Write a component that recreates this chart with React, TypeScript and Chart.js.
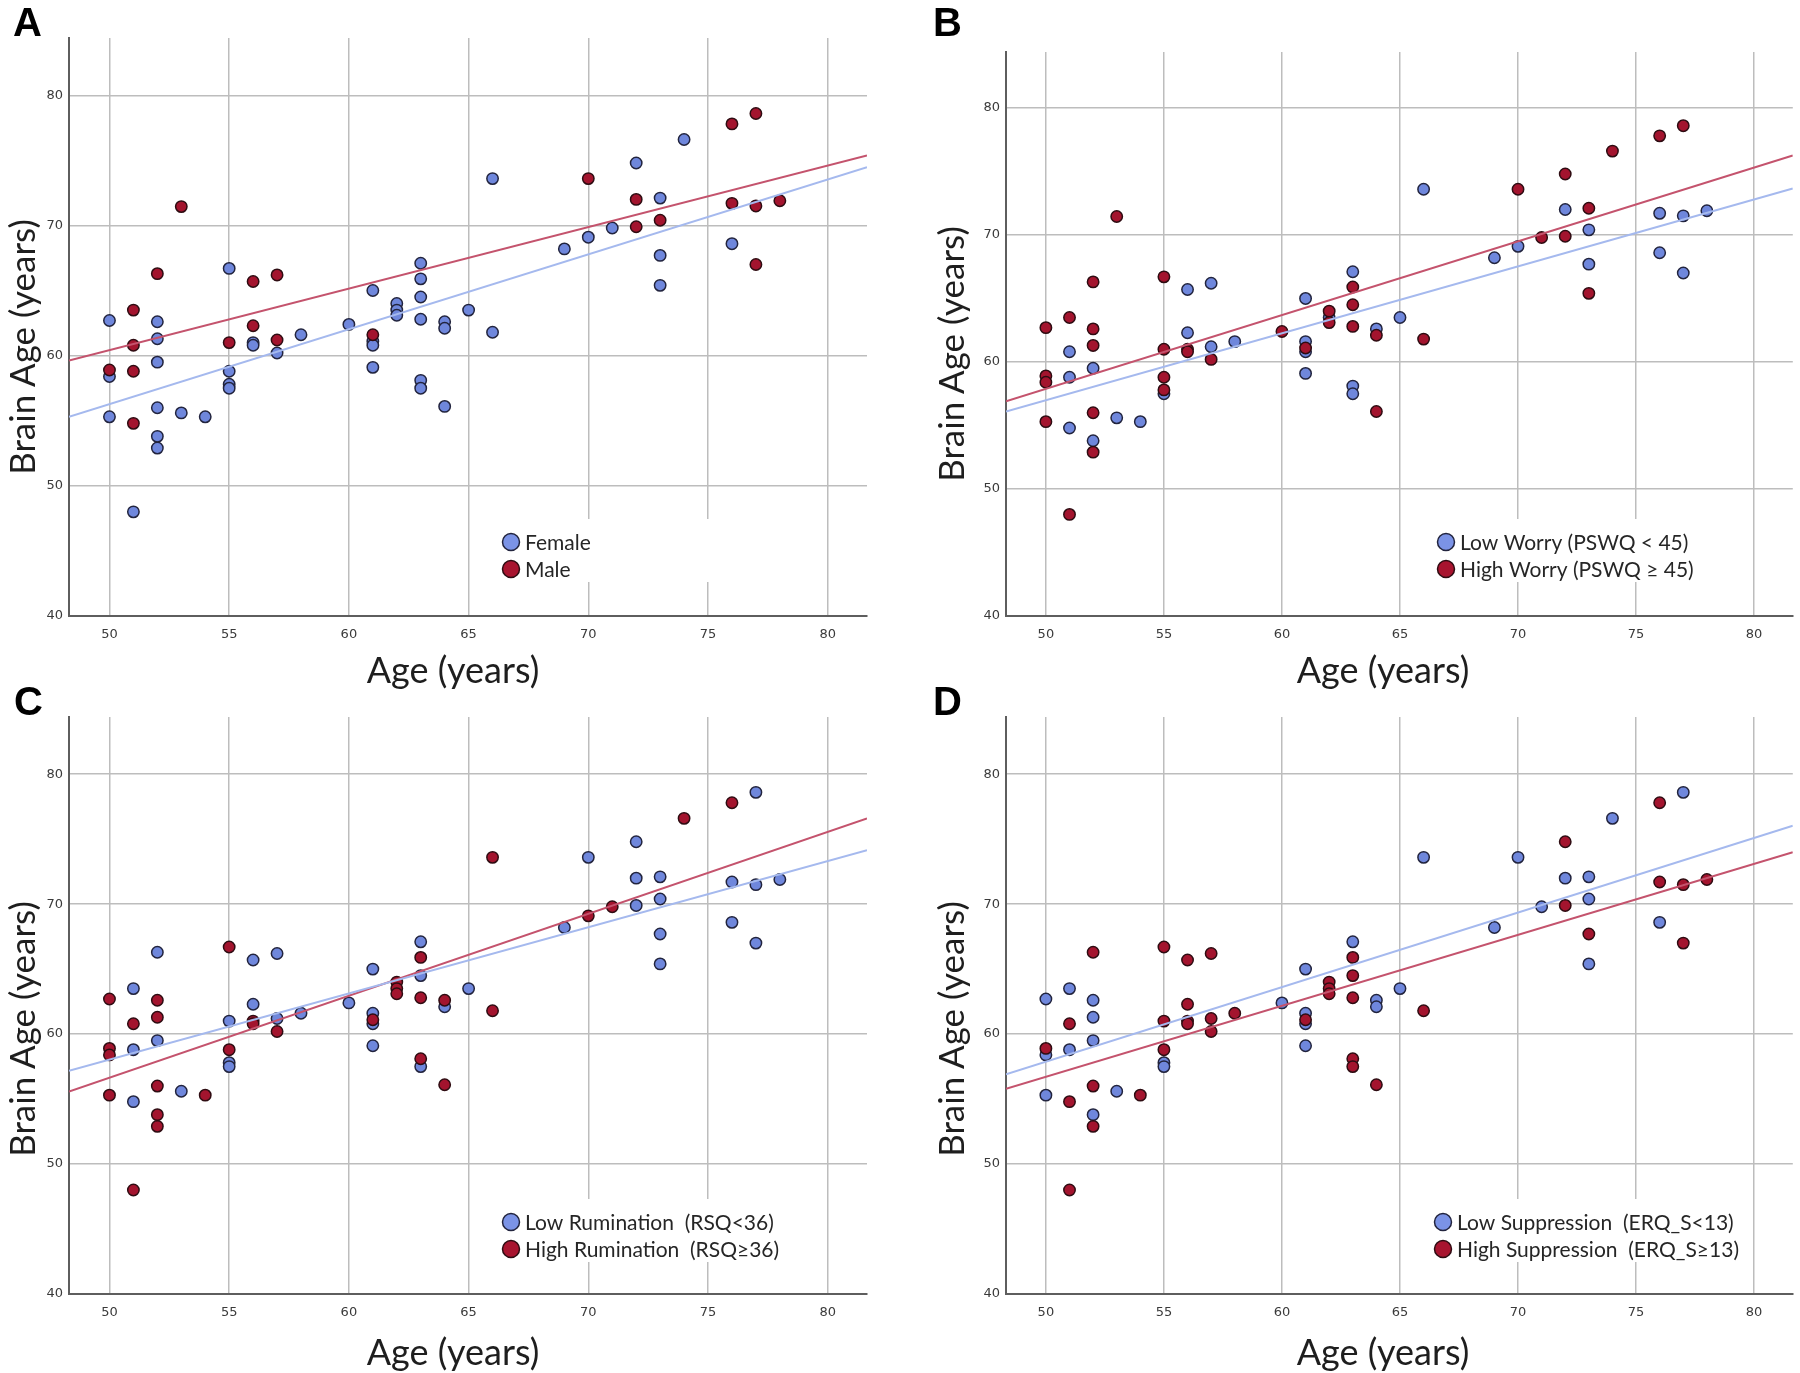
import React, { useEffect, useRef } from 'react';
import { Chart, registerables } from 'chart.js';

Chart.register(...registerables);

// ---------- data ----------
const ages = [
  50, 50, 50, 50,
  51, 51, 51, 51, 51,
  52, 52, 52, 52, 52, 52, 52,
  53, 53,
  54,
  55, 55, 55, 55, 55,
  56, 56, 56, 56,
  57, 57, 57,
  58,
  60,
  61, 61, 61, 61, 61,
  62, 62, 62,
  63, 63, 63, 63, 63, 63,
  64, 64, 64,
  65,
  66, 66,
  69,
  70, 70,
  71,
  72, 72, 72,
  73, 73, 73, 73,
  74,
  76, 76, 76,
  77, 77, 77,
  78,
];

const brainAges = [
  62.7, 58.9, 58.4, 55.3,
  63.5, 60.8, 58.8, 54.8, 48.0,
  66.3, 62.6, 61.3, 59.5, 56.0, 53.8, 52.9,
  71.45, 55.6,
  55.3,
  66.7, 61.0, 58.8, 57.8, 57.5,
  65.7, 62.3, 61.0, 60.8,
  66.2, 61.2, 60.2,
  61.6,
  62.4,
  65.0, 61.6, 61.1, 60.8, 59.1,
  64.0, 63.5, 63.1,
  67.1, 65.9, 64.5, 62.8, 58.1, 57.5,
  62.6, 62.1, 56.1,
  63.5,
  73.6, 61.8,
  68.2,
  73.6, 69.1,
  69.8,
  74.8, 72.0, 69.9,
  72.1, 70.4, 67.7, 65.4,
  76.6,
  77.8, 71.7, 68.6,
  78.6, 71.5, 67.0,
  71.9,
];

// 0 = female / low, 1 = male / high, null = not shown in that panel
const sexGroup = [
  0, 1, 0, 0,
  1, 1, 1, 1, 0,
  1, 0, 0, 0, 0, 0, 0,
  1, 0,
  0,
  0, 1, 0, 0, 0,
  1, 1, 0, 0,
  1, 1, 0,
  0,
  0,
  0, 1, 0, 0, 0,
  0, 0, 0,
  0, 0, 0, 0, 0, 0,
  0, 0, 0,
  0,
  0, 0,
  0,
  1, 0,
  0,
  0, 1, 1,
  0, 1, 0, 0,
  0,
  1, 1, 0,
  1, 1, 1,
  1,
];

const worryGroup = [
  1, 1, 1, 1,
  1, 0, 0, 0, 1,
  1, 1, 1, 0, 1, 0, 1,
  1, 0,
  0,
  1, 1, 1, 1, 0,
  0, 0, 1, 1,
  0, 0, 1,
  0,
  1,
  0, 0, 1, 0, 0,
  1, 0, 1,
  0, 1, 1, 1, 0, 0,
  0, 1, 1,
  0,
  0, 1,
  0,
  1, 0,
  1,
  1, 0, 1,
  1, 0, 0, 1,
  1,
  1, 0, 0,
  1, 0, 0,
  0,
];

const ruminationGroup = [
  1, 1, 1, 1,
  0, 1, 0, 0, 1,
  0, 1, 1, 0, 1, 1, 1,
  null, 0,
  1,
  1, 0, 1, 0, 0,
  0, 0, 1, 1,
  0, 0, 1,
  0,
  0,
  0, 0, 1, 0, 0,
  1, 1, 1,
  0, 1, 0, 1, 1, 0,
  1, 0, 1,
  0,
  1, 1,
  0,
  0, 1,
  1,
  0, 0, 0,
  0, 0, 0, 0,
  1,
  1, 0, 0,
  0, 0, 0,
  0,
];

const suppressionGroup = [
  0, 1, 0, 0,
  0, 1, 0, 1, 1,
  1, 0, 0, 0, 1, 0, 1,
  null, 0,
  1,
  1, 1, 1, 0, 0,
  1, 1, 1, 1,
  1, 1, 1,
  1,
  0,
  0, 0, 1, 0, 0,
  1, 1, 1,
  0, 1, 1, 1, 1, 1,
  0, 0, 1,
  0,
  0, 1,
  0,
  0, null,
  0,
  1, 0, 1,
  0, 0, 1, 0,
  0,
  1, 1, 0,
  0, 1, 1,
  1,
];

const xRange = [48.31, 81.64];
const yRange = [40, 84.4];
const xTickStep = 5;
const yTickStep = 10;

// fitted lines: brain age at xRange[0] and xRange[1]
const fitSexFemale = [55.3, 74.47];
const fitSexMale = [59.63, 75.38];
const fitWorryLow = [56.1, 73.65];
const fitWorryHigh = [56.9, 76.25];
const fitRuminationLow = [57.18, 74.15];
const fitRuminationHigh = [55.58, 76.6];
const fitSuppressionLow = [56.9, 76.03];
const fitSuppressionHigh = [55.8, 74.0];

const sexLabels = ['Female', 'Male'];
const worryLabels = ['Low Worry (PSWQ < 45)', 'High Worry (PSWQ \u2265 45)'];
const ruminationLabels = ['Low Rumination  (RSQ<36)', 'High Rumination  (RSQ\u226536)'];
const suppressionLabels = ['Low Suppression  (ERQ_S<13)', 'High Suppression  (ERQ_S\u226513)'];

// ---------- styles ----------
const BLUE_FILL = '#6f87dc';
const BLUE_LEGEND = '#7b93e6';
const BLUE_EDGE = '#22243e';
const RED_FILL = '#a3142e';
const RED_LEGEND = '#a8142f';
const RED_EDGE = '#2e0c12';
const BLUE_LINE = '#a5b9ee';
const RED_LINE = '#c4536d';
const GRID = '#bdbdbd';
const AXIS = '#5e5e5e';
const TICK_COLOR = '#3a3a3a';
const TEXT_FONT = 'Lato, "Open Sans", sans-serif';

const insideLegend = {
  id: 'insideLegend',
  beforeDatasetsDraw(chart: any, _args: any, opts: any) {
    const { ctx, chartArea } = chart;
    const items = chart.data.datasets.slice(0, 2);
    const cx = chartArea.left + opts.dx;
    const y0 = chartArea.bottom + opts.dy;
    ctx.save();
    ctx.font = opts.font;
    let textW = 0;
    items.forEach((d: any) => {
      textW = Math.max(textW, ctx.measureText(d.label).width);
    });
    const boxLeft = cx - 20;
    const boxRight = Math.max(cx + 14 + textW + 10, cx + 210);
    ctx.fillStyle = '#ffffff';
    ctx.fillRect(boxLeft, y0 - 23, boxRight - boxLeft, opts.rowGap + 36);
    items.forEach((d: any, i: number) => {
      const y = y0 + i * opts.rowGap;
      ctx.beginPath();
      ctx.arc(cx, y, 8.5, 0, Math.PI * 2);
      ctx.fillStyle = d.legendFill;
      ctx.fill();
      ctx.lineWidth = 1.5;
      ctx.strokeStyle = d.borderColor;
      ctx.stroke();
      ctx.fillStyle = opts.color;
      ctx.textBaseline = 'middle';
      ctx.textAlign = 'left';
      ctx.fillText(d.label, cx + 14, y + 1);
    });
    ctx.restore();
  },
};

type Spec = {
  left: number; top: number; w: number; h: number;
  area: { left: number; top: number; right: number; bottom: number };
  group: (number | null)[];
  labels: string[];
  fitLow: number[];
  fitHigh: number[];
  legendDx: number;
  legendDy: number;
};

function Panel({ spec }: { spec: Spec }) {
  const ref = useRef<HTMLCanvasElement>(null);
  useEffect(() => {
    const low: { x: number; y: number }[] = [];
    const high: { x: number; y: number }[] = [];
    ages.forEach((a, i) => {
      const g = spec.group[i];
      if (g === 0) low.push({ x: a, y: brainAges[i] });
      else if (g === 1) high.push({ x: a, y: brainAges[i] });
    });
    const tickFont = { family: '"DejaVu Sans", sans-serif', size: 13 };
    const chart = new Chart(ref.current as HTMLCanvasElement, {
      type: 'scatter',
      data: {
        datasets: [
          {
            label: spec.labels[0], data: low,
            backgroundColor: BLUE_FILL, borderColor: BLUE_EDGE, borderWidth: 1.5,
            pointRadius: 5.7, pointHoverRadius: 5.7, order: 2, legendFill: BLUE_LEGEND,
          } as any,
          {
            label: spec.labels[1], data: high,
            backgroundColor: RED_FILL, borderColor: RED_EDGE, borderWidth: 1.5,
            pointRadius: 5.7, pointHoverRadius: 5.7, order: 1, legendFill: RED_LEGEND,
          } as any,
          {
            label: 'fit low',
            data: [{ x: xRange[0], y: spec.fitLow[0] }, { x: xRange[1], y: spec.fitLow[1] }],
            showLine: true, pointRadius: 0, borderColor: BLUE_LINE, borderWidth: 2,
            backgroundColor: BLUE_LINE, fill: false, order: 0,
          },
          {
            label: 'fit high',
            data: [{ x: xRange[0], y: spec.fitHigh[0] }, { x: xRange[1], y: spec.fitHigh[1] }],
            showLine: true, pointRadius: 0, borderColor: RED_LINE, borderWidth: 2,
            backgroundColor: RED_LINE, fill: false, order: 0,
          },
        ],
      },
      options: {
        animation: false,
        responsive: false,
        maintainAspectRatio: false,
        layout: {
          padding: { left: 0, top: spec.area.top, right: spec.w - spec.area.right, bottom: 0 },
        },
        plugins: {
          legend: { display: false },
          tooltip: { enabled: false },
          insideLegend: {
            dx: spec.legendDx, dy: spec.legendDy, rowGap: 27,
            font: '21px ' + TEXT_FONT, color: '#262626',
          },
        } as any,
        scales: {
          x: {
            type: 'linear', min: xRange[0], max: xRange[1],
            ticks: { stepSize: xTickStep, includeBounds: false, padding: 11, font: tickFont, color: TICK_COLOR, maxRotation: 0 },
            grid: { color: GRID, lineWidth: 1.5, drawTicks: false },
            border: { color: AXIS, width: 2 },
            afterFit: (s: any) => { s.height = spec.h - spec.area.bottom; },
          },
          y: {
            type: 'linear', min: yRange[0], max: yRange[1],
            ticks: { stepSize: yTickStep, includeBounds: false, padding: 6, font: tickFont, color: TICK_COLOR },
            grid: { color: GRID, lineWidth: 1.5, drawTicks: false },
            border: { color: AXIS, width: 2 },
            afterFit: (s: any) => { s.width = spec.area.left; },
          },
        },
      },
      plugins: [insideLegend as any],
    });
    return () => chart.destroy();
  }, [spec]);
  return (
    <canvas
      ref={ref}
      width={spec.w}
      height={spec.h}
      style={{ position: 'absolute', left: spec.left, top: spec.top, width: spec.w, height: spec.h }}
    />
  );
}

const specs: Spec[] = [
  {
    left: 0, top: 0, w: 900, h: 690,
    area: { left: 69, top: 38, right: 867, bottom: 616 },
    group: sexGroup, labels: sexLabels, fitLow: fitSexFemale, fitHigh: fitSexMale,
    legendDx: 442, legendDy: -74,
  },
  {
    left: 900, top: 0, w: 900, h: 690,
    area: { left: 106, top: 52, right: 897, bottom: 616 },
    group: worryGroup, labels: worryLabels, fitLow: fitWorryLow, fitHigh: fitWorryHigh,
    legendDx: 440, legendDy: -74,
  },
  {
    left: 0, top: 690, w: 900, h: 683,
    area: { left: 69, top: 27, right: 867, bottom: 604 },
    group: ruminationGroup, labels: ruminationLabels, fitLow: fitRuminationLow, fitHigh: fitRuminationHigh,
    legendDx: 442, legendDy: -72,
  },
  {
    left: 900, top: 690, w: 900, h: 683,
    area: { left: 106, top: 27, right: 897, bottom: 604 },
    group: suppressionGroup, labels: suppressionLabels, fitLow: fitSuppressionLow, fitHigh: fitSuppressionHigh,
    legendDx: 437, legendDy: -72,
  },
];

const panelLetters = [
  { t: 'A', x: 13, y: 2 },
  { t: 'B', x: 933, y: 2 },
  { t: 'C', x: 14, y: 681 },
  { t: 'D', x: 933, y: 681 },
];

const yTitles = [
  { x: 21, y: 347 },
  { x: 950, y: 354 },
  { x: 21, y: 1029 },
  { x: 950, y: 1029 },
];

const xTitles = [
  { x: 453, y: 669 },
  { x: 1383, y: 669 },
  { x: 453, y: 1351 },
  { x: 1383, y: 1351 },
];

export default function App() {
  return (
    <div style={{ position: 'absolute', left: 0, top: 0, width: 1800, height: 1373, background: '#ffffff', overflow: 'hidden' }}>
      {specs.map((s, i) => <Panel key={i} spec={s} />)}
      {panelLetters.map((p) => (
        <div key={p.t} style={{
          position: 'absolute', left: p.x, top: p.y, fontFamily: '"Liberation Sans", Arial, sans-serif',
          fontWeight: 'bold', fontSize: 40, lineHeight: '40px', color: '#000',
        }}>{p.t}</div>
      ))}
      {yTitles.map((p, i) => (
        <div key={'y' + i} style={{
          position: 'absolute', left: p.x, top: p.y, transform: 'translate(-50%, -50%) rotate(-90deg)',
          fontFamily: TEXT_FONT, fontSize: 35, lineHeight: '38px', whiteSpace: 'nowrap', color: '#1e1e1e',
        }}>Brain Age (years)</div>
      ))}
      {xTitles.map((p, i) => (
        <div key={'x' + i} style={{
          position: 'absolute', left: p.x, top: p.y, transform: 'translate(-50%, -50%)',
          fontFamily: TEXT_FONT, fontSize: 36, lineHeight: '38px', whiteSpace: 'nowrap', color: '#1e1e1e',
        }}>Age (years)</div>
      ))}
    </div>
  );
}
